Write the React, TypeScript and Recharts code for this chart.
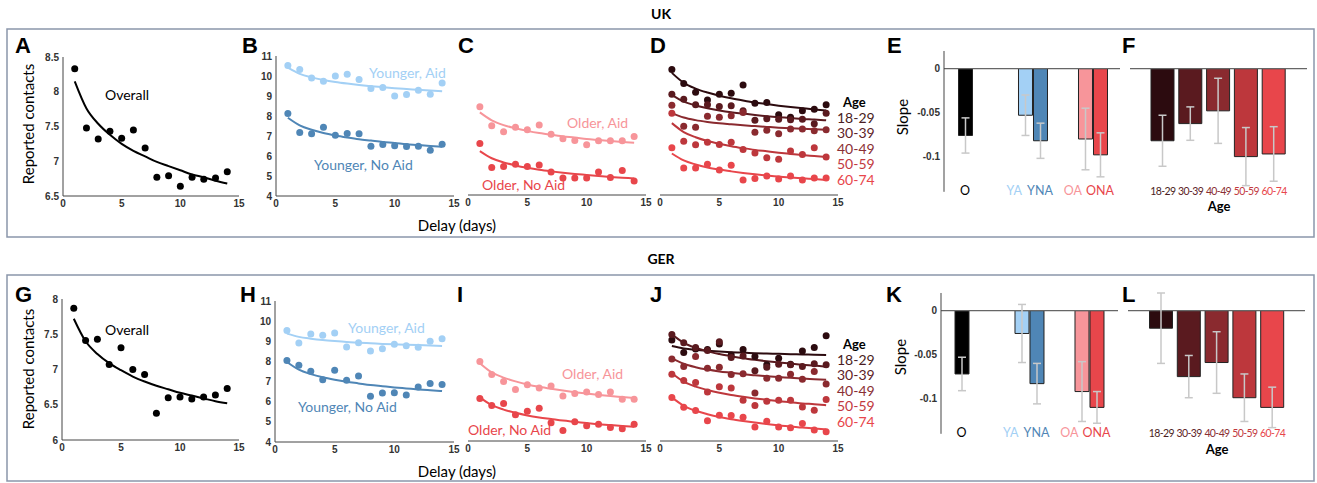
import React from 'react';
import { ComposedChart, Line, XAxis, YAxis, BarChart, Bar, Cell, ErrorBar, ReferenceLine } from 'recharts';

const days = [1, 2, 3, 4, 5, 6, 7, 8, 9, 10, 11, 12, 13, 14];

// ---- UK: reported contacts by delay ----
const ukOverall = [8.33, 7.48, 7.32, 7.43, 7.33, 7.45, 7.19, 6.77, 6.79, 6.64, 6.77, 6.74, 6.76, 6.85];
const ukOverallFit = [8.15, 7.76, 7.54, 7.38, 7.25, 7.15, 7.07, 6.99, 6.93, 6.87, 6.81, 6.77, 6.72, 6.68];
const ukYA = [10.53, 10.32, 9.9, 9.74, 10.0, 10.09, 9.82, 9.37, 9.42, 9.0, 9.07, 9.29, 9.09, 9.65];
const ukYAFit = [10.42, 10.11, 9.93, 9.8, 9.7, 9.62, 9.55, 9.49, 9.44, 9.39, 9.35, 9.31, 9.27, 9.24];
const ukYNA = [8.12, 7.18, 7.11, 7.44, 7.04, 7.13, 7.11, 6.49, 6.58, 6.51, 6.48, 6.49, 6.29, 6.59];
const ukYNAFit = [7.91, 7.53, 7.31, 7.15, 7.03, 6.93, 6.84, 6.77, 6.7, 6.65, 6.59, 6.55, 6.5, 6.46];
const ukOA = [8.44, 7.49, 7.18, 7.41, 7.29, 7.52, 7.06, 6.83, 6.74, 6.53, 6.73, 6.73, 6.73, 6.94];
const ukOAFit = [8.16, 7.76, 7.52, 7.36, 7.23, 7.12, 7.03, 6.95, 6.89, 6.82, 6.77, 6.72, 6.67, 6.63];
const ukONA = [6.59, 5.38, 5.43, 5.55, 5.43, 5.51, 5.16, 4.85, 4.86, 4.86, 5.16, 4.88, 5.23, 4.71];
const ukONAFit = [6.21, 5.85, 5.64, 5.49, 5.37, 5.27, 5.19, 5.12, 5.06, 5.01, 4.96, 4.91, 4.87, 4.83];

const ukAge1829 = [10.32, 9.62, 9.17, 8.79, 9.07, 9.12, 9.54, 8.62, 8.66, 8.04, 7.92, 8.24, 8.32, 8.54];
const ukAge1829Fit = [10.15, 9.65, 9.36, 9.16, 9.0, 8.87, 8.76, 8.66, 8.58, 8.5, 8.43, 8.37, 8.31, 8.26];
const ukAge3039 = [9.07, 8.82, 8.54, 8.54, 8.46, 8.49, 8.24, 7.77, 7.84, 7.82, 7.79, 7.82, 7.59, 8.12];
const ukAge3039Fit = [9.04, 8.7, 8.51, 8.37, 8.26, 8.17, 8.1, 8.03, 7.97, 7.92, 7.88, 7.83, 7.8, 7.76];
const ukAge4049 = [8.52, 7.46, 7.41, 7.96, 7.92, 7.99, 8.16, 7.16, 7.26, 7.09, 7.33, 7.33, 7.24, 7.29];
const ukAge4049Fit = [8.12, 7.9, 7.77, 7.68, 7.61, 7.56, 7.51, 7.47, 7.43, 7.39, 7.36, 7.34, 7.31, 7.29];
const ukAge5059 = [8.12, 6.71, 6.53, 6.66, 6.54, 6.66, 6.29, 6.11, 5.88, 5.8, 6.21, 6.04, 6.38, 5.91];
const ukAge5059Fit = [7.62, 7.17, 6.91, 6.72, 6.58, 6.46, 6.36, 6.27, 6.2, 6.13, 6.07, 6.01, 5.96, 5.91];
const ukAge6074 = [6.38, 5.36, 5.36, 5.55, 5.26, 5.5, 4.76, 4.83, 4.96, 4.8, 4.96, 4.76, 4.85, 4.85];
const ukAge6074Fit = [6.09, 5.74, 5.54, 5.39, 5.28, 5.19, 5.11, 5.04, 4.98, 4.93, 4.88, 4.84, 4.8, 4.76];

// ---- GER ----
const gerOverall = [7.87, 7.41, 7.43, 7.07, 7.31, 7.0, 6.93, 6.38, 6.6, 6.61, 6.58, 6.61, 6.64, 6.73];
const gerOverallFit = [7.72, 7.4, 7.22, 7.09, 6.99, 6.9, 6.83, 6.77, 6.72, 6.67, 6.63, 6.59, 6.55, 6.52];
const gerYA = [9.53, 8.91, 9.36, 9.3, 9.41, 8.72, 8.93, 8.52, 8.63, 8.85, 8.78, 8.7, 9.0, 9.13];
const gerYAFit = [9.38, 9.22, 9.13, 9.06, 9.01, 8.97, 8.93, 8.9, 8.87, 8.85, 8.83, 8.81, 8.79, 8.77];
const gerYNA = [8.04, 7.81, 7.51, 7.09, 7.56, 7.06, 7.28, 6.27, 6.43, 6.45, 6.33, 6.73, 6.9, 6.86];
const gerYNAFit = [7.97, 7.59, 7.37, 7.21, 7.09, 6.99, 6.91, 6.83, 6.77, 6.71, 6.66, 6.61, 6.57, 6.53];
const gerOA = [7.97, 7.33, 6.98, 6.57, 6.81, 6.65, 6.75, 6.25, 6.38, 6.45, 6.33, 6.45, 6.09, 6.09];
const gerOAFit = [7.89, 7.43, 7.17, 6.98, 6.83, 6.71, 6.61, 6.52, 6.44, 6.37, 6.31, 6.25, 6.2, 6.15];
const gerONA = [6.12, 5.77, 5.87, 5.31, 5.49, 5.64, 4.91, 4.53, 4.96, 4.76, 4.84, 4.68, 4.61, 4.84];
const gerONAFit = [6.18, 5.79, 5.57, 5.41, 5.28, 5.18, 5.1, 5.02, 4.96, 4.9, 4.84, 4.8, 4.75, 4.71];

const gerAge1829 = [9.05, 8.42, 8.6, 8.58, 8.85, 8.3, 8.58, 8.22, 7.81, 8.14, 7.84, 8.5, 8.68, 9.26];
const gerAge1829Fit = [8.75, 8.63, 8.56, 8.51, 8.47, 8.44, 8.42, 8.39, 8.37, 8.36, 8.34, 8.33, 8.31, 8.3];
const gerAge3039 = [9.33, 8.91, 8.67, 8.52, 8.96, 8.17, 8.25, 7.51, 7.69, 7.84, 7.81, 7.72, 7.86, 7.81];
const gerAge3039Fit = [9.33, 8.91, 8.66, 8.48, 8.35, 8.24, 8.14, 8.06, 7.99, 7.93, 7.87, 7.81, 7.77, 7.72];
const gerAge4049 = [8.1, 7.72, 8.22, 7.64, 7.69, 7.33, 7.36, 6.4, 7.14, 7.14, 7.34, 7.09, 7.48, 6.85];
const gerAge4049Fit = [8.14, 7.86, 7.69, 7.57, 7.48, 7.41, 7.34, 7.29, 7.24, 7.2, 7.16, 7.12, 7.09, 7.06];
const gerAge5059 = [7.34, 7.03, 6.93, 6.45, 6.71, 6.65, 6.04, 5.77, 5.99, 6.04, 6.04, 5.7, 5.54, 6.07];
const gerAge5059Fit = [7.39, 6.97, 6.72, 6.55, 6.41, 6.3, 6.21, 6.13, 6.06, 5.99, 5.94, 5.88, 5.84, 5.79];
const gerAge6074 = [6.18, 5.69, 5.52, 5.01, 5.29, 5.27, 5.19, 4.7, 4.99, 4.7, 4.66, 4.88, 4.55, 4.46];
const gerAge6074Fit = [6.18, 5.76, 5.51, 5.34, 5.2, 5.09, 5.0, 4.92, 4.85, 4.78, 4.73, 4.67, 4.63, 4.58];

// ---- slopes ----
const groupLabels = ['O', 'YA', 'YNA', 'OA', 'ONA'];
const ukGroupSlope = [-0.076, -0.053, -0.082, -0.08, -0.098];
const ukGroupErr = [0.02, 0.023, 0.02, 0.035, 0.025];
const gerGroupSlope = [-0.072, -0.026, -0.083, -0.092, -0.11];
const gerGroupErr = [0.019, 0.033, 0.023, 0.034, 0.018];

const ageLabels = ['18-29', '30-39', '40-49', '50-59', '60-74'];
const ukAgeSlope = [-0.082, -0.0625, -0.048, -0.1, -0.097];
const ukAgeErr = [0.029, 0.019, 0.037, 0.033, 0.031];
const gerAgeSlope = [-0.02, -0.075, -0.059, -0.099, -0.11];
const gerAgeErr = [0.04, 0.024, 0.035, 0.027, 0.023];

const cBlack = '#000000';
const cYA = '#a3d0f5';
const cYNA = '#4f86b6';
const cOA = '#f7959a';
const cONA = '#e8464b';
const groupColors = [cBlack, cYA, cYNA, cOA, cONA];
const ageColors = ['#2c0b0f', '#5a1a1f', '#8a2a2f', '#bd373c', '#e8464b'];
const ageTextColors = ['#4a1d22', '#5e2227', '#8a2f34', '#c2393e', '#e8464b'];

const textFont = 'Lato, "Open Sans", sans-serif';
const numFont = '"Liberation Sans", Arial, sans-serif';
const numTick = { fontSize: 10, fontWeight: 700, fill: '#333', fontFamily: numFont };

type Series = { name: string; color: string; pts: number[]; fit: number[] };

function TrendPanel({ x, y, w, h, yDomain, yTicks, series }: {
    x: number; y: number; w: number; h: number; yDomain: [number, number]; yTicks?: number[]; series: Series[];
}) {
    const yW = 34, mT = 6, mR = 8, xH = 24;
    const showY = !!yTicks;
    const rows = days.map((d, i) => {
        const r: any = { day: d };
        series.forEach((s) => {
            r[s.name + '_p'] = s.pts[i];
            r[s.name + '_f'] = s.fit[i];
        });
        return r;
    });
    return (
        <div style={{ position: 'absolute', left: x - yW, top: y - mT }}>
            <ComposedChart
                width={yW + w + mR}
                height={mT + h + xH}
                data={rows}
                margin={{ top: mT, right: mR, bottom: 0, left: showY ? 0 : yW }}
            >
                <XAxis
                    dataKey="day"
                    type="number"
                    domain={[0, 15]}
                    ticks={[0, 5, 10, 15]}
                    height={xH}
                    stroke="#444"
                    tickLine={false}
                    tickSize={3}
                    tickMargin={1}
                    tick={numTick}
                />
                <YAxis
                    type="number"
                    domain={yDomain}
                    ticks={yTicks}
                    hide={!showY}
                    width={yW}
                    allowDataOverflow
                    stroke="#444"
                    tickLine={false}
                    tickSize={3}
                    tickMargin={1}
                    tick={numTick}
                />
                {series.map((s) => (
                    <Line key={s.name + 'f'} dataKey={s.name + '_f'} type="monotone" stroke={s.color}
                        strokeWidth={2} dot={false} isAnimationActive={false} />
                ))}
                {series.map((s) => (
                    <Line key={s.name + 'p'} dataKey={s.name + '_p'} stroke="none"
                        dot={{ r: 3.5, fill: s.color, stroke: 'none' }} activeDot={false} isAnimationActive={false} />
                ))}
            </ComposedChart>
        </div>
    );
}

function SlopePanel({ x, y, w, padL, padR, slots, slotCount, labels, values, errs, colors, textColors, showY, barSize, labelSize }: {
    x: number; y: number; w: number; padL: number; padR: number; slots: number[]; slotCount: number;
    labels: string[]; values: number[]; errs: number[]; colors: string[]; textColors: string[];
    showY: boolean; barSize: number; labelSize: number;
}) {
    const yW = 40, xH = 22, h = 140.8, mT = 4;
    const rows = Array.from({ length: slotCount }, (_, i) => {
        const j = slots.indexOf(i);
        if (j < 0) return { key: 'gap' + i };
        return { key: labels[j], v: values[j], e: errs[j], color: colors[j], tc: textColors[j], slot: i };
    });
    const renderTick = (props: any) => {
        const { x: tx, y: ty, payload } = props;
        const row: any = rows.find((r) => r.key === payload.value);
        if (!row || !row.tc) return <g />;
        // in a pair of adjacent bars the first label sits to the left of its bar
        const next: any = rows[row.slot + 1];
        const pairedLeft = slotCount > 5 && next && next.tc;
        return (
            <text x={pairedLeft ? tx - 3 : tx} y={ty} dy={3} textAnchor={pairedLeft ? 'end' : 'middle'}
                fontSize={labelSize} letterSpacing={slotCount > 5 ? 0 : -0.6} fill={row.tc} fontFamily={textFont}>
                {row.key}
            </text>
        );
    };
    return (
        <div style={{ position: 'absolute', left: x - (showY ? yW : 0), top: y - mT }}>
            <BarChart
                width={(showY ? yW : 0) + w}
                height={mT + h + xH}
                data={rows}
                margin={{ top: mT, right: 0, bottom: 0, left: 0 }}
            >
                <XAxis
                    dataKey="key"
                    type="category"
                    padding={{ left: padL, right: padR }}
                    axisLine={false}
                    tickLine={false}
                    tickSize={0}
                    tickMargin={0}
                    height={xH}
                    interval={0}
                    tick={renderTick}
                />
                <YAxis
                    type="number"
                    domain={[-0.14, 0.02]}
                    ticks={[0, -0.05, -0.1]}
                    hide={!showY}
                    width={yW}
                    allowDataOverflow
                    stroke="#444"
                    tickLine={false}
                    tickSize={3}
                    tickMargin={1}
                    tick={numTick}
                />
                <ReferenceLine y={0} stroke="#666" strokeWidth={1.2} />
                <Bar dataKey="v" barSize={barSize} stroke="#222" strokeWidth={1} isAnimationActive={false}>
                    {rows.map((r: any) => (
                        <Cell key={r.key} fill={r.color || 'none'} />
                    ))}
                    <ErrorBar dataKey="e" width={4} stroke="#c8c8c8" strokeWidth={1.5} direction="y" />
                </Bar>
            </BarChart>
        </div>
    );
}

function Overlay() {
    const letter = { fontSize: 22, fontWeight: 700, fontFamily: numFont, fill: '#000' } as const;
    const lab = { fontSize: 15, fontFamily: textFont, fill: '#000' } as const;
    const ann = { fontSize: 14, fontFamily: textFont } as const;
    const legend = (top: number) => (
        <g>
            <text x={843} y={top} fontSize={13} fontWeight={700} fontFamily={textFont}>Age</text>
            {ageLabels.map((a, i) => (
                <text key={a} x={837} y={top + 15.5 * (i + 1)} fontSize={14} fontFamily={textFont} fill={ageTextColors[i]}>{a}</text>
            ))}
        </g>
    );
    return (
        <svg width={1317} height={483} style={{ position: 'absolute', left: 0, top: 0 }}>
            <rect x={7} y={29} width={1307} height={208} fill="none" stroke="#8a96ab" strokeWidth={1.5} />
            <rect x={7} y={275} width={1307} height={206} fill="none" stroke="#8a96ab" strokeWidth={1.5} />
            <text x={661} y={19} textAnchor="middle" fontSize={14} fontWeight={700} fontFamily={textFont}>UK</text>
            <text x={661} y={264} textAnchor="middle" fontSize={14} fontWeight={700} fontFamily={textFont}>GER</text>

            {/* UK */}
            <text x={15} y={53} {...letter}>A</text>
            <text x={242} y={53} {...letter}>B</text>
            <text x={458} y={53} {...letter}>C</text>
            <text x={650} y={53} {...letter}>D</text>
            <text x={887} y={53} {...letter}>E</text>
            <text x={1122} y={53} {...letter}>F</text>
            <text transform="translate(34,124) rotate(-90)" textAnchor="middle" {...lab}>Reported contacts</text>
            <text x={457} y={231} textAnchor="middle" {...lab}>Delay (days)</text>
            <text transform="translate(908,117) rotate(-90)" textAnchor="middle" {...lab}>Slope</text>
            <text x={1219} y={211} textAnchor="middle" fontSize={13} fontWeight={700} fontFamily={textFont}>Age</text>
            <text x={105} y={100} {...ann} fill="#000">Overall</text>
            <text x={369} y={78} {...ann} fill={cYA}>Younger, Aid</text>
            <text x={314} y={170} {...ann} fill={cYNA}>Younger, No Aid</text>
            <text x={567} y={128} {...ann} fill={cOA}>Older, Aid</text>
            <text x={482} y={190} {...ann} fill={cONA}>Older, No Aid</text>
            {legend(107)}

            {/* GER */}
            <text x={15} y={302} {...letter}>G</text>
            <text x={240} y={302} {...letter}>H</text>
            <text x={457} y={302} {...letter}>I</text>
            <text x={650} y={302} {...letter}>J</text>
            <text x={886} y={302} {...letter}>K</text>
            <text x={1122} y={302} {...letter}>L</text>
            <text transform="translate(34,369) rotate(-90)" textAnchor="middle" {...lab}>Reported contacts</text>
            <text x={457} y={477} textAnchor="middle" {...lab}>Delay (days)</text>
            <text transform="translate(906,357) rotate(-90)" textAnchor="middle" {...lab}>Slope</text>
            <text x={1217} y={454} textAnchor="middle" fontSize={13} fontWeight={700} fontFamily={textFont}>Age</text>
            <text x={105} y={335} {...ann} fill="#000">Overall</text>
            <text x={348} y={333} {...ann} fill={cYA}>Younger, Aid</text>
            <text x={298} y={412} {...ann} fill={cYNA}>Younger, No Aid</text>
            <text x={562} y={379} {...ann} fill={cOA}>Older, Aid</text>
            <text x={468} y={435} {...ann} fill={cONA}>Older, No Aid</text>
            {legend(349)}
        </svg>
    );
}

const ukAgeSeries: Series[] = [
    { name: 'a1', color: ageColors[0], pts: ukAge1829, fit: ukAge1829Fit },
    { name: 'a2', color: ageColors[1], pts: ukAge3039, fit: ukAge3039Fit },
    { name: 'a3', color: ageColors[2], pts: ukAge4049, fit: ukAge4049Fit },
    { name: 'a4', color: ageColors[3], pts: ukAge5059, fit: ukAge5059Fit },
    { name: 'a5', color: ageColors[4], pts: ukAge6074, fit: ukAge6074Fit },
];
const gerAgeSeries: Series[] = [
    { name: 'a1', color: ageColors[0], pts: gerAge1829, fit: gerAge1829Fit },
    { name: 'a2', color: ageColors[1], pts: gerAge3039, fit: gerAge3039Fit },
    { name: 'a3', color: ageColors[2], pts: gerAge4049, fit: gerAge4049Fit },
    { name: 'a4', color: ageColors[3], pts: gerAge5059, fit: gerAge5059Fit },
    { name: 'a5', color: ageColors[4], pts: gerAge6074, fit: gerAge6074Fit },
];

const groupSlots = [0, 4, 5, 8, 9];
const ageSlots = [0, 1, 2, 3, 4];

export default function App() {
    return (
        <div style={{ position: 'absolute', left: 0, top: 0, width: 1317, height: 483, background: '#fff', fontFamily: textFont }}>
            <Overlay />

            {/* UK */}
            <TrendPanel x={63} y={57} w={176} h={139} yDomain={[6.5, 8.5]} yTicks={[6.5, 7, 7.5, 8, 8.5]}
                series={[{ name: 'o', color: cBlack, pts: ukOverall, fit: ukOverallFit }]} />
            <TrendPanel x={276} y={56} w={178} h={140} yDomain={[4, 11]} yTicks={[4, 5, 6, 7, 8, 9, 10, 11]}
                series={[
                    { name: 'ya', color: cYA, pts: ukYA, fit: ukYAFit },
                    { name: 'yna', color: cYNA, pts: ukYNA, fit: ukYNAFit },
                ]} />
            <TrendPanel x={468} y={56} w={178} h={139} yDomain={[4, 11]}
                series={[
                    { name: 'oa', color: cOA, pts: ukOA, fit: ukOAFit },
                    { name: 'ona', color: cONA, pts: ukONA, fit: ukONAFit },
                ]} />
            <TrendPanel x={660} y={56} w={178} h={139} yDomain={[4, 11]} series={ukAgeSeries} />
            <SlopePanel x={944} y={51.4} w={176} padL={13.5} padR={12.5} slots={groupSlots} slotCount={10}
                labels={groupLabels} values={ukGroupSlope} errs={ukGroupErr} colors={groupColors} textColors={groupColors}
                showY barSize={14} labelSize={12.5} />
            <SlopePanel x={1130} y={51.4} w={177} padL={19} padR={19} slots={ageSlots} slotCount={5}
                labels={ageLabels} values={ukAgeSlope} errs={ukAgeErr} colors={ageColors} textColors={ageTextColors}
                showY={false} barSize={23} labelSize={10.5} />

            {/* GER */}
            <TrendPanel x={62} y={299} w={177} h={141} yDomain={[6, 8]} yTicks={[6, 6.5, 7, 7.5, 8]}
                series={[{ name: 'o', color: cBlack, pts: gerOverall, fit: gerOverallFit }]} />
            <TrendPanel x={275} y={301} w={179} h={141} yDomain={[4, 11]} yTicks={[4, 5, 6, 7, 8, 9, 10, 11]}
                series={[
                    { name: 'ya', color: cYA, pts: gerYA, fit: gerYAFit },
                    { name: 'yna', color: cYNA, pts: gerYNA, fit: gerYNAFit },
                ]} />
            <TrendPanel x={468} y={301} w={178} h={140} yDomain={[4, 11]}
                series={[
                    { name: 'oa', color: cOA, pts: gerOA, fit: gerOAFit },
                    { name: 'ona', color: cONA, pts: gerONA, fit: gerONAFit },
                ]} />
            <TrendPanel x={660} y={301} w={178} h={140} yDomain={[4, 11]} series={gerAgeSeries} />
            <SlopePanel x={941} y={293.4} w={177} padL={13} padR={14} slots={groupSlots} slotCount={10}
                labels={groupLabels} values={gerGroupSlope} errs={gerGroupErr} colors={groupColors} textColors={groupColors}
                showY barSize={14} labelSize={12.5} />
            <SlopePanel x={1128} y={293.4} w={177} padL={19.5} padR={18.5} slots={ageSlots} slotCount={5}
                labels={ageLabels} values={gerAgeSlope} errs={gerAgeErr} colors={ageColors} textColors={ageTextColors}
                showY={false} barSize={23} labelSize={10.5} />
        </div>
    );
}
